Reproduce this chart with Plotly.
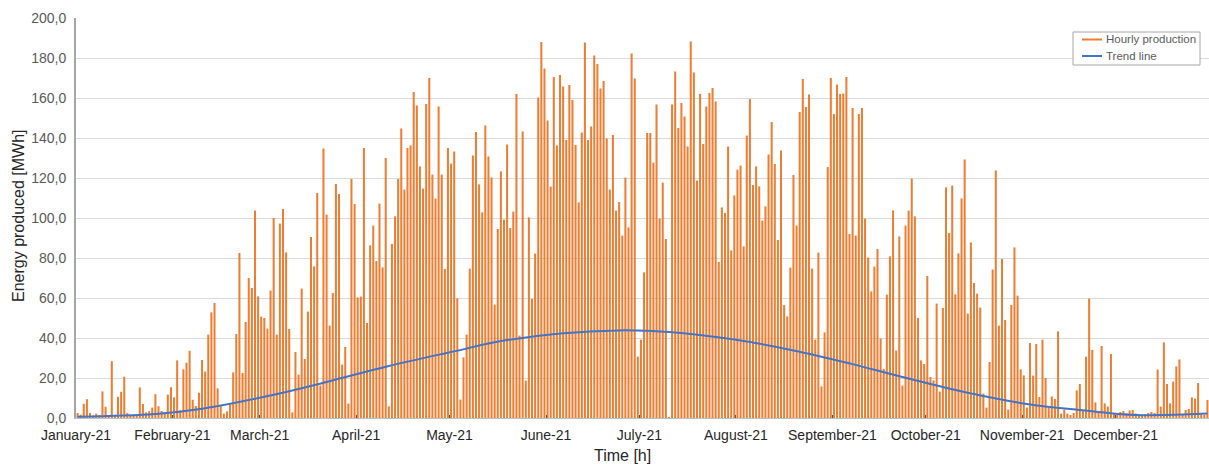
import plotly.graph_objects as go

# ---- data ----
prod_a = [2.5, 1.6, 7.1, 9.4, 2.5, 1.2, 2.2, 1.5, 13.3, 5.6, 1.4, 28.4, 1.5, 10.6, 13.1, 20.6, 2.5, 1.6, 1.8, 1.4,
          15.3, 7.0, 2.8, 3.4, 5.2, 11.9, 5.9, 3.5, 2.0, 11.7, 15.4, 10.3, 28.8, 3.8, 24.3, 27.6, 33.6, 9.1, 6.0, 12.6]
prod_b = [29.0, 23.2, 41.7, 52.8, 57.5, 14.8, 6.2, 2.2, 3.3, 7.0, 22.8, 42.0, 82.5, 22.5, 48.0, 70.0, 65.0, 103.7,
          60.8, 50.7, 50.0, 44.7, 63.7, 100.0]
prod_c = [41.7, 97.2, 104.5, 82.8, 44.5, 2.8, 33.0, 21.7, 64.7, 29.5, 53.2, 90.5, 75.8, 112.5, 16.3, 134.7, 101.7,
          46.2, 62.5, 117.0, 112.0, 26.7, 35.5, 7.2, 119.5, 107.0, 60.3, 60.7, 135.0, 47.5, 86.3, 96.2, 78.5, 107.2,
          75.3, 130.0, 5.8]
prod_d = [87.0, 100.8, 119.5, 144.7, 114.2, 135.0, 136.2, 163.0, 156.2, 125.8, 114.7, 157.0, 170.0, 121.7, 109.7,
          155.8, 121.7, 74.5, 135.0, 127.2, 133.2, 59.8, 9.2, 30.3, 41.7, 74.7, 131.2, 143.0, 116.8, 102.8, 146.2,
          130.8, 120.3, 56.7, 94.5, 123.3, 99.2]
prod_e = [136.7, 95.0, 103.2, 162.0, 41.2, 143.3, 18.7, 100.3, 59.5, 82.2, 160.3, 188.0, 174.8, 148.7, 115.7, 170.5,
          136.2, 171.5, 165.7, 139.0, 166.5, 159.0, 136.5, 107.8, 142.7, 187.8, 139.0, 145.8, 181.3, 177.0, 164.7,
          168.5, 139.8, 114.2, 141.5, 103.7, 108.0]
prod_f = [91.2, 120.2, 95.3, 182.3, 169.7, 30.7, 39.2, 72.8, 142.5, 142.5, 127.7, 156.7, 99.7, 117.7, 89.5, 0.5,
          156.7, 173.2, 145.0, 157.5, 150.8, 135.8, 188.2, 172.8, 118.7, 162.0, 137.0, 155.8, 162.5, 165.0, 158.3,
          78.0, 105.3, 102.5, 135.8, 83.8, 111.3]
prod_g = [124.2, 126.2, 85.8, 141.2, 159.5, 116.5, 125.8, 115.8, 98.7, 105.8, 131.7, 148.0, 127.0, 89.0, 133.7, 56.5,
          50.8, 75.2, 121.5, 96.2, 153.0, 169.5, 155.5, 161.8, 74.7, 39.2, 82.7, 15.8, 42.8, 125.5, 170.0, 152.0,
          166.7, 162.0, 162.2, 170.5, 92.0]
prod_h = [155.0, 91.2, 152.0, 155.0, 99.7, 80.2, 63.3, 75.7, 84.5, 39.7, 24.5, 61.7, 80.8, 103.8, 33.7, 90.8, 16.2,
          96.2, 103.7, 119.7, 100.8, 50.0, 28.8, 27.0, 71.0, 20.5, 18.8, 57.2, 13.2, 55.0, 115.3, 92.5, 116.2, 61.8,
          82.3, 109.8, 129.2]
prod_i = [52.2, 87.8, 67.5, 62.2, 55.2, 12.2, 5.2, 28.0, 74.2, 123.8, 46.2, 79.5, 49.0, 4.2, 56.5, 85.3, 61.2, 24.3,
          21.3, 5.2, 37.5, 21.2, 37.0, 10.5, 39.2, 20.0, 5.0, 10.8, 9.5, 43.3, 2.2, 4.2, 2.2, 1.5, 2.5, 13.8, 17.0]
prod_j = [3.7, 30.7, 59.7, 34.0, 7.8, 3.0, 36.0, 7.3, 5.7, 32.0, 2.5, 1.7, 3.0, 3.5, 2.3, 3.8, 4.0, 2.3, 1.7, 1.8,
          1.8, 2.5, 3.0, 2.5, 24.3, 5.7, 37.8, 17.0, 7.3, 18.2, 25.8, 29.3, 1.7, 4.0, 4.5, 10.3, 9.7, 17.5, 1.7, 1.5,
          9.0]

trend_days = [0, 25, 40, 63, 80, 100, 120, 137, 155, 174, 190, 211, 230, 248, 265, 286, 305, 322, 340, 363]
trend_vals = [0.6, 2.0, 4.6, 11.6, 18.0, 26.0, 33.0, 38.7, 42.3, 43.8, 43.0, 39.2, 33.8, 27.3, 20.5, 12.6, 7.0,
              4.0, 1.5, 2.2]

month_labels = ["January-21", "February-21", "March-21", "April-21", "May-21", "June-21", "July-21",
                "August-21", "September-21", "October-21", "November-21", "December-21"]
month_lengths = [31, 28, 31, 30, 31, 30, 31, 31, 30, 31, 30, 31]
y_ticks = [0, 20, 40, 60, 80, 100, 120, 140, 160, 180, 200]
legend_names = ["Hourly production", "Trend line"]

production = prod_a + prod_b + prod_c + prod_d + prod_e + prod_f + prod_g + prod_h + prod_i + prod_j
days = list(range(len(production)))

month_starts = []
acc = 0
for m in month_lengths:
    month_starts.append(acc - 0.5)
    acc += m

ORANGE = "#ED7D31"
BLUE = "#4472C4"
FONT = "Liberation Sans, Arial, sans-serif"

W, H = 1209, 464
L, R, T, B = 76, 0, 18, 46
PW, PH = W - L - R, H - T - B


def px_x(x):
    return (x - L) / PW


def px_y(y):
    return (H - B - y) / PH


fig = go.Figure()
fig.add_trace(go.Bar(x=days, y=production, marker=dict(color=ORANGE, line=dict(width=0)),
                     name=legend_names[0], showlegend=False))
fig.add_trace(go.Scatter(x=trend_days, y=trend_vals, mode="lines", line=dict(color=BLUE, width=2, shape="spline"),
                         name=legend_names[1], showlegend=False))

# legend box drawn to match the reference's compact legend
shapes = [
    dict(type="rect", xref="paper", yref="paper", x0=px_x(1073), x1=px_x(1200), y0=px_y(65), y1=px_y(32),
         line=dict(color="#a6a6a6", width=1), fillcolor="white", layer="above"),
]
annotations = []
for name, color, yy in zip(legend_names, [ORANGE, BLUE], [39.5, 56.0]):
    shapes.append(dict(type="line", xref="paper", yref="paper", x0=px_x(1082), x1=px_x(1102),
                       y0=px_y(yy), y1=px_y(yy), line=dict(color=color, width=2), layer="above"))
    annotations.append(dict(text=name, xref="paper", yref="paper", x=px_x(1104), y=px_y(yy),
                            xanchor="left", yanchor="middle", showarrow=False,
                            font=dict(size=11.5, color="#595959")))

annotations += [
    dict(text="Energy produced [MWh]", xref="paper", yref="paper", x=0, y=px_y(216), xshift=-58,
         xanchor="center", yanchor="middle", textangle=-90, showarrow=False,
         font=dict(size=16, color="#262626")),
    dict(text="Time [h]", xref="paper", yref="paper", x=px_x(622), y=px_y(455),
         xanchor="center", yanchor="middle", showarrow=False,
         font=dict(size=16, color="#262626")),
]

fig.update_layout(
    width=W, height=H,
    margin=dict(l=L, r=R, t=T, b=B, autoexpand=False),
    paper_bgcolor="white", plot_bgcolor="white",
    separators=",.",
    bargap=0.35,
    showlegend=False,
    hovermode=False,
    font=dict(family=FONT, size=14, color="#595959"),
    shapes=shapes,
    annotations=annotations,
)
fig.update_xaxes(
    automargin=False,
    range=[-0.5, len(production) - 0.5],
    tickmode="array", tickvals=month_starts, ticktext=month_labels,
    ticks="inside", ticklen=3, tickcolor="#595959",
    ticklabelstandoff=4,
    tickfont=dict(size=14, color="#262626"),
    showgrid=False, zeroline=False,
    showline=True, linecolor="#bfbfbf", linewidth=1,
)
fig.update_yaxes(
    automargin=False,
    range=[0, 200], tickmode="array", tickvals=y_ticks, tickformat=".1f",
    ticks="", ticklabelstandoff=5, tickfont=dict(size=14, color="#595959"),
    showgrid=True, gridcolor="#d9d9d9", gridwidth=1, zeroline=False,
    showline=True, linecolor="#a6a6a6", linewidth=2,
)

# remove the default page margin so the figure fills the 1209x464 window exactly
fig.write_html("out.html", config={"displayModeBar": False},
               post_script="document.body.style.margin='0';document.body.style.overflow='hidden';")
